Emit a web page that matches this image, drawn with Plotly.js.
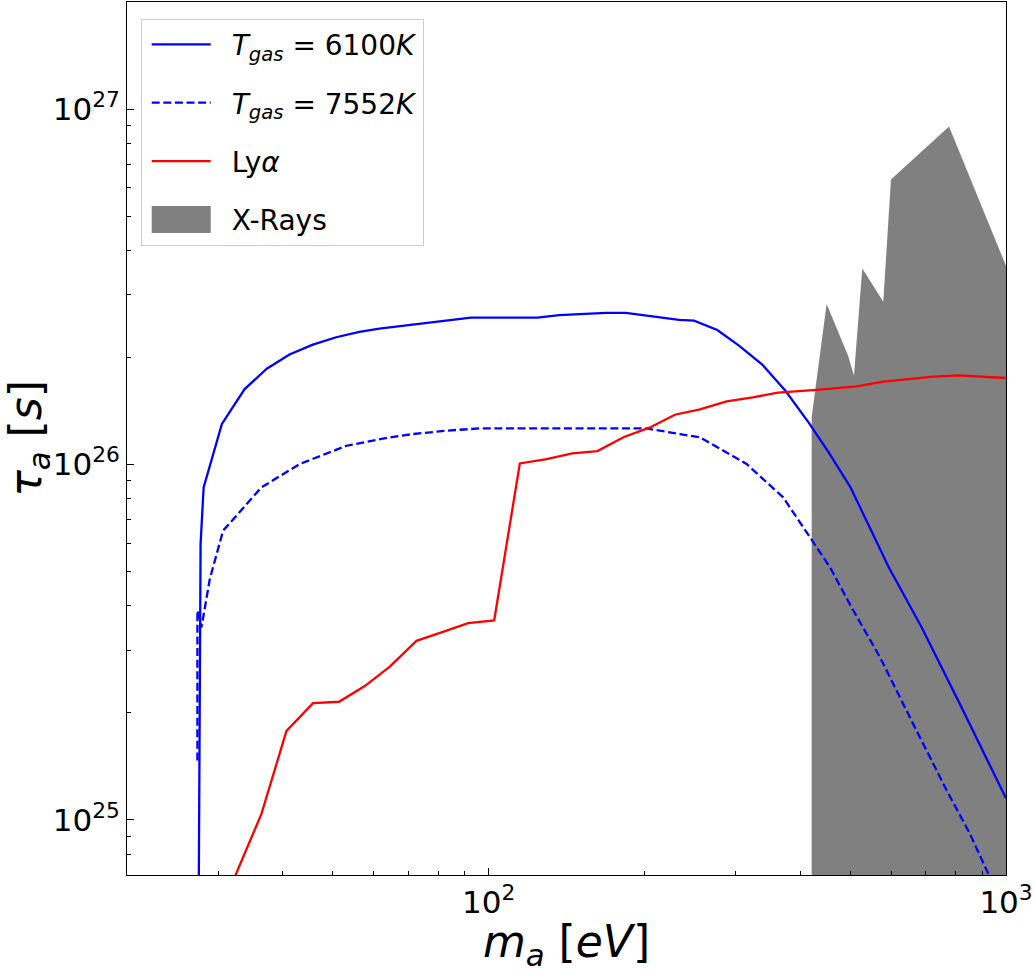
<!DOCTYPE html>
<html>
<head>
<meta charset="utf-8">
<script src="https://cdn.plot.ly/plotly-3.0.1.min.js"></script>
<style>
html, body { margin: 0; padding: 0; background: #ffffff; }
#chart { width: 1033px; height: 973px; }
</style>
</head>
<body>
<div id="chart"></div>
<script>
// ---- data (mass in eV, lifetime in s) ----
const massSolid = [27.45, 27.75, 28.13, 30.51, 33.76, 37.26, 41.22, 45.60, 50.74, 56.27, 61.50, 71.31, 82.73, 92.44, 124.3, 136.9, 168.5, 184.1, 204.2, 233.4, 249.5, 276.7, 304.7, 338.0, 375.0, 415.9, 454.6, 500.6, 593.5, 687.3, 821.0, 1000];
const tauSolid  = [3e24, 5.98e25, 8.62e25, 1.30e26, 1.63e26, 1.86e26, 2.04e26, 2.17e26, 2.28e26, 2.36e26, 2.41e26, 2.48e26, 2.54e26, 2.59e26, 2.59e26, 2.63e26, 2.67e26, 2.67e26, 2.62e26, 2.55e26, 2.54e26, 2.39e26, 2.16e26, 1.91e26, 1.61e26, 1.31e26, 1.08e26, 8.62e25, 5.14e25, 3.48e25, 2.07e25, 1.15e25];

const massDashed = [27.36, 27.36, 27.86, 28.91, 30.67, 36.38, 43.14, 53.12, 64.42, 71.45, 82.92, 96.15, 129.4, 202.0, 234.3, 256.1, 315.2, 371.0, 417.9, 456.8, 503.1, 570.7, 661.9, 768.1, 852.1, 924.1, 1000];
const tauDashed  = [1.47e25, 3.88e25, 3.48e25, 4.76e25, 6.51e25, 8.62e25, 1.003e26, 1.129e26, 1.192e26, 1.218e26, 1.245e26, 1.263e26, 1.263e26, 1.263e26, 1.218e26, 1.192e26, 1.003e26, 8.08e25, 6.24e25, 5.14e25, 3.96e25, 2.87e25, 1.86e25, 1.21e25, 9.13e24, 7.05e24, 5.5e24];

const massLya = [31.0, 36.38, 40.67, 45.78, 51.38, 57.62, 64.42, 72.54, 81.07, 91.27, 102.5, 114.9, 129.4, 145.1, 162.3, 182.6, 204.1, 229.1, 256.1, 288.4, 324.2, 362.4, 436.9, 514.4, 579.2, 723.6, 808.6, 1000];
const tauLya  = [6.0e24, 1.04e25, 1.78e25, 2.13e25, 2.15e25, 2.38e25, 2.70e25, 3.19e25, 3.37e25, 3.58e25, 3.64e25, 1.007e26, 1.036e26, 1.075e26, 1.091e26, 1.195e26, 1.267e26, 1.380e26, 1.429e26, 1.505e26, 1.545e26, 1.592e26, 1.624e26, 1.659e26, 1.710e26, 1.766e26, 1.781e26, 1.751e26];

// X-ray excluded region (closed polygon; the first/last points are the floor of the fill)
const massXray = [421.1, 421.1, 450.1, 495.5, 508.3, 527.5, 579.2, 599.3, 776.0, 1000, 1000];
const tauXray  = [1e24, 1.36e26, 2.83e26, 2.02e26, 1.78e26, 3.56e26, 2.87e26, 6.33e26, 8.93e26, 3.62e26, 1e24];

const seriesNames = [
  '<i>T</i><sub><i>gas</i></sub> = 6100<i>K</i>',
  '<i>T</i><sub><i>gas</i></sub> = 7552<i>K</i>',
  'Ly<i>α</i>',
  'X-Rays'
];

const xTickVals = [100, 1000];
const xTickText = ['10<sup>2</sup>', '10<sup>3</sup>'];
const yTickVals = [1e25, 1e26, 1e27];
const yTickText = ['10<sup>25</sup>', '10<sup>26</sup>', '10<sup>27</sup>'];

// minor tick positions (2..9 x each decade)
const xMinor = [], yMinor = [];
for (let d = 1; d <= 3; d++) for (let k = 2; k <= 9; k++) xMinor.push(k * Math.pow(10, d));
for (let d = 24; d <= 27; d++) for (let k = 2; k <= 9; k++) yMinor.push(k * Math.pow(10, d));

const FONT = 'DejaVu Sans, Liberation Sans, sans-serif';
const LW = 2.3;

const traces = [
  {
    x: massXray, y: tauXray, type: 'scatter', mode: 'lines',
    fill: 'toself', fillcolor: '#808080', line: { width: 0, color: '#808080' },
    name: seriesNames[3], legendrank: 4, legendgroup: 'd', hoverinfo: 'skip'
  },
  {
    x: massSolid, y: tauSolid, type: 'scatter', mode: 'lines',
    line: { color: '#0000ff', width: LW },
    name: seriesNames[0], legendrank: 1, legendgroup: 'a'
  },
  {
    x: massDashed, y: tauDashed, type: 'scatter', mode: 'lines',
    line: { color: '#0000ff', width: LW, dash: '8px,3.6px' },
    name: seriesNames[1], legendrank: 2, legendgroup: 'b'
  },
  {
    x: massLya, y: tauLya, type: 'scatter', mode: 'lines',
    line: { color: '#ff0000', width: LW },
    name: seriesNames[2], legendrank: 3, legendgroup: 'c'
  }
];

const layout = {
  width: 1033, height: 973,
  margin: { l: 127, r: 27, t: 2, b: 98 },
  paper_bgcolor: '#ffffff', plot_bgcolor: '#ffffff',
  font: { family: FONT, color: '#000000' },
  showlegend: true,
  legend: {
    x: 0.0156, y: 0.981, xanchor: 'left', yanchor: 'top',
    bgcolor: 'rgba(255,255,255,0.8)', bordercolor: '#cccccc', borderwidth: 1,
    font: { family: FONT, size: 28, color: '#000000' },
    itemwidth: 80, tracegroupgap: 19, traceorder: 'grouped'
  },
  xaxis: {
    type: 'log', range: [Math.log10(20), 3],
    tickmode: 'array', tickvals: xTickVals, ticktext: xTickText,
    ticks: 'inside', ticklen: 7, tickwidth: 1, tickcolor: '#000000',
    showline: true, linecolor: '#000000', linewidth: 1, mirror: true,
    showgrid: false, zeroline: false,
    tickfont: { family: FONT, size: 31, color: '#000000' },
    minor: { tickmode: 'array', tickvals: xMinor, ticks: 'inside', ticklen: 4, tickwidth: 1, tickcolor: '#000000', showgrid: false },
    title: { text: '<i>m</i><sub><i>a</i></sub> [<i>eV</i>]', font: { family: FONT, size: 44, color: '#000000' }, standoff: 12 }
  },
  yaxis: {
    type: 'log', range: [Math.log10(7e24), Math.log10(2e27)],
    tickmode: 'array', tickvals: yTickVals, ticktext: yTickText,
    ticks: 'inside', ticklen: 7, tickwidth: 1, tickcolor: '#000000',
    showline: true, linecolor: '#000000', linewidth: 1, mirror: true,
    showgrid: false, zeroline: false,
    tickfont: { family: FONT, size: 31, color: '#000000' },
    minor: { tickmode: 'array', tickvals: yMinor, ticks: 'inside', ticklen: 4, tickwidth: 1, tickcolor: '#000000', showgrid: false },
    title: { text: '<i>τ</i><sub><i>a</i></sub> [<i>s</i>]', font: { family: FONT, size: 44, color: '#000000' }, standoff: 10 }
  }
};

Plotly.newPlot('chart', traces, layout, { staticPlot: true, displayModeBar: false }).then(function (gd) {
  // matplotlib-style legend handles: 59px line samples and a filled patch
  gd.querySelectorAll('.legend .traces').forEach(function (g) {
    g.querySelectorAll('.legendlines path').forEach(function (p) { p.setAttribute('d', 'M10,0h59'); });
    g.querySelectorAll('.legendfill path').forEach(function (p) { p.setAttribute('d', 'M10,-13.5h59v27h-59z'); });
  });
});
</script>
</body>
</html>
